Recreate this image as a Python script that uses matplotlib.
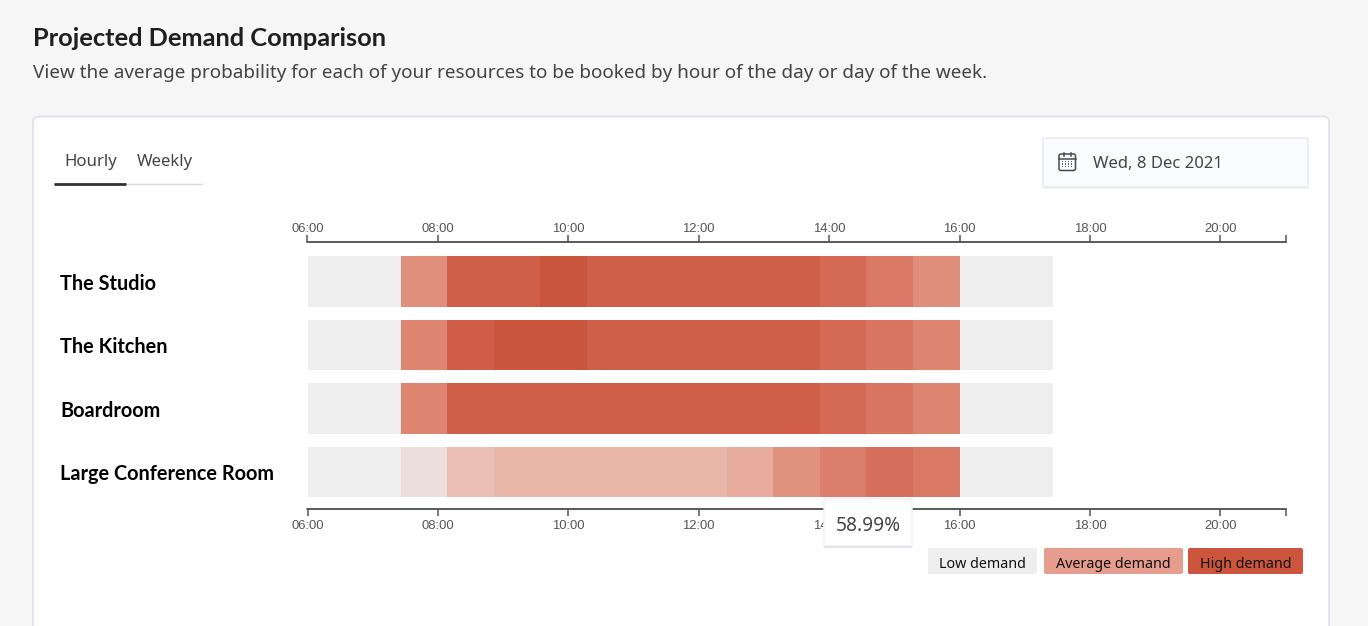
import matplotlib
matplotlib.use('Agg')
import matplotlib.pyplot as plt
from matplotlib.colors import LinearSegmentedColormap
from matplotlib.patches import FancyBboxPatch, Rectangle

W, H = 1368, 626
UI_FONT = 'Noto Sans'
BOLD_FONT = 'Lato'
TICK_FONT = 'Liberation Sans'

# data
rooms = ['The Studio', 'The Kitchen', 'Boardroom', 'Large Conference Room']
studio = [0, 0, 43.5, 67.5, 67.5, 72.5, 67.5, 67.5, 67.5, 67.5, 67.5, 62, 55, 44, 0, 0]
kitchen = [0, 0, 48.5, 68.5, 72.5, 72.5, 67.5, 67.5, 67.5, 67.5, 67.5, 62, 56, 48.5, 0, 0]
boardroom = [0, 0, 48.5, 67.5, 67.5, 67.5, 67.5, 67.5, 67.5, 67.5, 67.5, 62, 56, 48.5, 0, 0]
conference = [0, 0, 4, 20, 23.5, 23.5, 23.5, 23.5, 23.5, 29, 42.5, 52, 59, 55, 0, 0]
tick_hours = [6, 8, 10, 12, 14, 16, 18, 20, 21]
tick_labels = ['06:00', '08:00', '10:00', '12:00', '14:00', '16:00', '18:00', '20:00', '']
legend_labels = ['Low demand', 'Average demand', 'High demand']
legend_colors = ['#eeeeee', '#e69d8e', '#cb553d']

slot_hours = 15 / 21
max_value = 72.5
demand_cmap = LinearSegmentedColormap.from_list('demand', [
    (0, '#eeeeee'),
    (4 / max_value, '#ecdedc'),
    (23.5 / max_value, '#e9b7aa'),
    (48.5 / max_value, '#de8572'),
    (67.5 / max_value, '#d05f4a'),
    (1, '#c9553d'),
])


def px_axes(fig, zorder):
    a = fig.add_axes([0, 0, 1, 1], zorder=zorder)
    a.set_xlim(0, W)
    a.set_ylim(H, 0)
    a.axis('off')
    a.patch.set_alpha(0)
    return a


def box(a, x0, y0, x1, y1, color, edge='none', radius=3, lw=1, zorder=2):
    a.add_patch(FancyBboxPatch((x0, y0), x1 - x0, y1 - y0,
                               boxstyle=f'round,pad=0,rounding_size={radius}',
                               facecolor=color, edgecolor=edge, linewidth=lw, zorder=zorder))


fig = plt.figure(figsize=(W / 100, H / 100), dpi=100, facecolor='#f6f6f6')

# page background, card and controls
bg = px_axes(fig, 0)
bg.text(33, 38, 'Projected Demand Comparison', fontsize=18.25, fontweight='bold', family=BOLD_FONT,
        color='#1f1f1f', va='center')
bg.text(33, 72.5, 'View the average probability for each of your resources to be booked by hour of the day or day of the week.',
        fontsize=13.6, family=UI_FONT, color='#444444', va='center')
box(bg, 33, 116.5, 1329, 660, 'white', edge='#dde1ec', radius=6, lw=1.2)

bg.text(90.5, 162.5, 'Hourly', fontsize=12.1, family=UI_FONT, color='#444444', ha='center', va='center')
bg.text(164.5, 162.5, 'Weekly', fontsize=12.1, family=UI_FONT, color='#444444', ha='center', va='center')
bg.plot([54, 202], [183.5, 183.5], color='#d5dae8', lw=1, zorder=3)
bg.plot([54, 126], [183.5, 183.5], color='#333333', lw=2, solid_capstyle='butt', zorder=4)

box(bg, 1043, 139, 1308, 188.5, '#e9ecf2', radius=1, zorder=2)
box(bg, 1043, 138, 1308, 187, '#fafbfd', edge='#e6e9f0', radius=1, zorder=3)
bg.text(1093, 164.5, 'Wed, 8 Dec 2021', fontsize=12, family=UI_FONT, color='#444444', va='center', zorder=4)

# calendar icon
box(bg, 1059, 154, 1075.5, 170.5, 'none', edge='#4a4a4a', radius=2, lw=1.1, zorder=4)
bg.plot([1059, 1075.5], [158.5, 158.5], color='#4a4a4a', lw=1.1, zorder=4)
for ix in [1063.5, 1071]:
    bg.plot([ix, ix], [152.5, 155.5], color='#4a4a4a', lw=1.1, zorder=4)
for iy in [161.5, 164, 166.5]:
    for ix in [1062.5, 1065.5, 1068.5, 1071.5]:
        bg.add_patch(Rectangle((ix - 0.8, iy - 0.7), 1.6, 1.4, color='#5a5a5a', lw=0, zorder=4))

# chart
ax = fig.add_axes([307.5 / W, 1 - 509 / H, 978 / W, 267 / H], zorder=1)
ax.patch.set_alpha(0)
ax.set_xlim(6, 21)
ax.set_ylim(3.585, -0.626)

for row, values in enumerate([studio, kitchen, boardroom, conference]):
    lefts = [6 + i * slot_hours for i in range(len(values))]
    colors = [demand_cmap(v / max_value) for v in values]
    ax.barh(row, [slot_hours] * len(values), left=lefts, height=0.797, color=colors, linewidth=0)

ax.set_xticks(tick_hours)
ax.set_xticklabels(tick_labels, fontsize=9.4, family=TICK_FONT, color='#555555')
ax.tick_params(axis='x', length=5, width=1.1, color='#555555', pad=2.8)
ax.set_yticks(range(len(rooms)))
ax.set_yticklabels(rooms, fontsize=14.3, fontweight='bold', family=BOLD_FONT, color='black', ha='left')
ax.tick_params(axis='y', length=0, pad=178.2)

ax_top = ax.twiny()
ax_top.set_xlim(6, 21)
ax_top.set_xticks(tick_hours)
ax_top.set_xticklabels(tick_labels, fontsize=9.4, family=TICK_FONT, color='#555555')
ax_top.tick_params(axis='x', length=5, width=1.1, color='#555555', pad=0.2)

for a in [ax, ax_top]:
    for side in ['left', 'right']:
        a.spines[side].set_visible(False)
    for side in ['top', 'bottom']:
        a.spines[side].set_color('#555555')
        a.spines[side].set_linewidth(1.1)

# tooltip and legend sit on top of the chart
fg = px_axes(fig, 2)
box(fg, 824, 500, 912, 547.5, '#c3cad9', radius=1, zorder=2)
box(fg, 824, 499, 912, 546, 'white', edge='#eef0f5', radius=1, zorder=3)
fg.text(868, 526, '58.99%', fontsize=13.8, family=UI_FONT, color='#444444', ha='center', va='center', zorder=4)

legend_spans = [(928, 1037), (1044, 1183), (1188, 1303)]
for label, color, (x0, x1) in zip(legend_labels, legend_colors, legend_spans):
    box(fg, x0, 548, x1, 574, color, radius=2)
    fg.text((x0 + x1) / 2, 564, label, fontsize=10.3, family=UI_FONT, color='#111111',
            ha='center', va='center', zorder=4)

fig.savefig('out.png', dpi=100, facecolor=fig.get_facecolor())
